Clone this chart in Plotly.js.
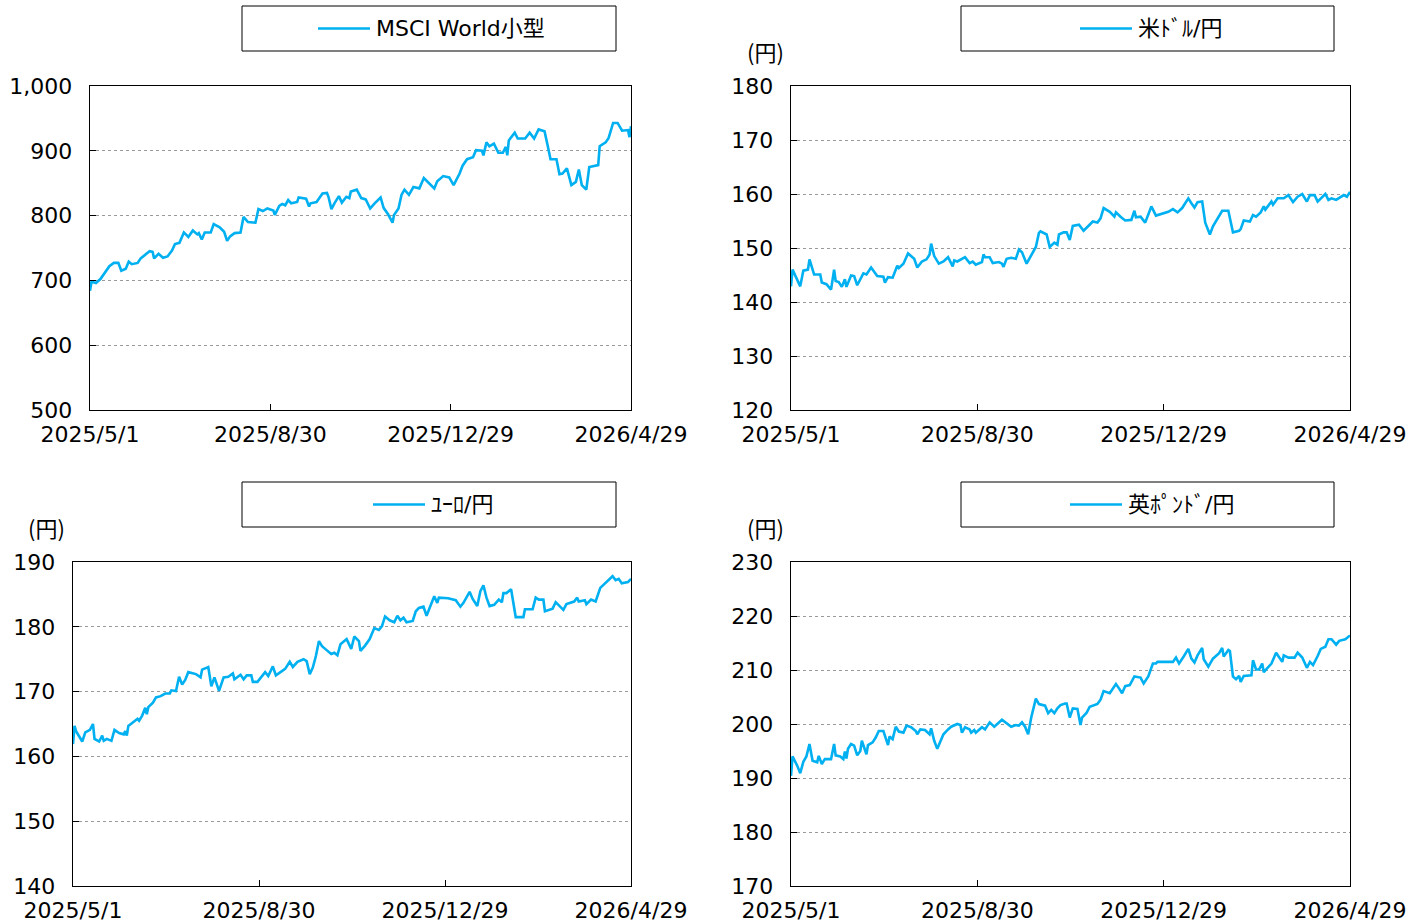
<!DOCTYPE html>
<html>
<head>
<meta charset="utf-8">
<script src="https://cdn.plot.ly/plotly-3.0.1.min.js"></script>
<style>
html,body{margin:0;padding:0;background:#fff;}
#chart{width:1424px;height:924px;}
</style>
</head>
<body>
<div id="chart"></div>
<script>
// ---- data (days since 2025-05-01, values) ----
const startDate = '2025-05-01';
const xTickVals = ['2025-05-01', '2025-08-30', '2025-12-29', '2026-04-29'];
const xTickText = ['2025/5/1', '2025/8/30', '2025/12/29', '2026/4/29'];

const seriesNames = ['MSCI World小型', '米ﾄﾞﾙ/円', 'ﾕｰﾛ/円', '英ﾎﾟﾝﾄﾞ/円'];

const msciDays = [0,1,4,7,13,16,19,21,24,26,28,32,34,37,40,42,43,46,49,52,55,57,60,63,66,69,72,73,75,77,81,83,87,90,92,94,97,101,103,106,111,113,116,119,123,124,127,129,131,133,135,139,140,145,147,148,152,156,159,160,162,164,167,169,172,174,175,179,182,185,188,191,195,197,200,203,204,207,209,211,214,217,221,224,227,231,233,237,241,244,248,250,253,257,259,263,264,266,268,271,274,277,279,280,281,285,287,292,295,298,301,305,307,309,313,315,317,320,323,326,328,330,333,335,341,342,346,348,351,354,357,361,362,363];
const msciVals = [684,698,696,702,722,727,727,715,718,729,725,727,734,739,745,744,734,741,735,737,746,756,758,774,767,777,771,773,763,774,774,787,782,775,761,768,773,774,798,790,789,810,807,811,808,801,815,818,816,824,819,821,828,826,814,819,821,834,835,829,810,819,830,820,829,827,837,840,827,825,811,819,828,812,802,789,801,811,832,840,832,844,842,858,851,842,853,861,859,847,865,877,887,890,901,900,893,913,907,911,897,897,906,893,916,928,919,919,928,919,933,930,909,887,887,864,865,873,847,852,871,847,840,875,878,907,913,920,943,943,931,932,921,938];

const usdDays = [0,1,6,8,11,12,15,19,20,23,26,28,29,31,33,35,36,39,41,43,47,49,52,56,60,61,63,66,69,70,73,76,80,82,85,88,90,91,93,96,99,102,105,106,108,111,113,116,118,120,124,125,126,129,131,135,137,138,140,143,146,148,150,153,156,159,161,162,166,168,171,173,174,177,179,181,183,187,190,193,196,199,201,203,207,210,211,214,217,221,223,224,227,230,232,234,237,241,245,248,251,254,258,260,262,264,267,269,272,274,277,280,284,287,291,292,294,298,300,302,305,307,308,312,313,316,320,323,326,329,332,335,337,340,342,345,347,349,351,354,356,359,361,363];
const usdVals = [142.9,146.0,142.9,145.8,146.0,147.9,145.1,145.1,143.6,143.3,142.3,146.0,143.9,143.7,142.8,144.2,142.8,144.9,144.8,143.1,145.3,145.1,146.4,144.8,144.7,143.6,144.6,144.5,146.7,146.3,147.1,149.0,148.0,146.4,147.5,147.9,148.8,150.8,148.5,147.1,147.5,148.3,146.6,147.7,147.5,148.0,148.3,147.2,147.5,146.9,147.4,148.8,148.3,148.3,147.2,147.4,147.1,146.5,148.0,148.2,148.0,149.7,149.2,147.1,148.6,150.2,152.8,153.1,152.5,150.2,151.0,150.6,152.5,152.9,152.9,151.5,154.1,154.3,153.2,154.1,154.9,154.7,155.5,157.4,156.7,155.8,156.6,155.8,155.1,155.2,156.9,155.7,155.8,154.7,156.1,157.7,156.0,156.3,156.7,157.2,156.6,157.4,159.2,158.3,157.5,158.5,158.6,154.7,152.5,154.0,155.5,156.9,156.9,152.9,153.2,153.5,155.1,154.9,156.1,155.8,156.6,157.7,157.1,158.6,158.0,159.2,159.2,159.8,158.5,159.5,160.0,158.6,159.8,159.8,158.6,159.5,160.0,158.9,159.2,158.9,159.2,159.8,159.5,160.4];

const eurDays = [0,1,2,6,8,11,13,14,17,19,20,22,25,27,30,33,34,35,36,39,42,43,45,47,48,49,52,54,57,60,63,64,67,69,71,73,75,80,83,84,88,90,92,95,98,101,104,105,109,111,113,116,117,120,123,125,127,130,132,136,138,141,143,146,150,152,154,156,158,160,162,165,168,170,172,174,178,181,183,186,187,190,193,196,199,201,203,206,209,211,213,215,217,221,223,225,228,230,232,235,237,238,244,249,252,254,258,260,263,265,267,269,271,274,277,279,280,282,285,288,293,294,299,301,303,306,307,312,314,319,321,326,328,329,333,334,337,340,343,346,351,353,355,357,361,363];
const eurVals = [161.9,164.7,163.9,162.3,163.7,164.1,165.0,162.7,162.3,163.2,162.4,162.7,162.4,164.1,163.6,163.4,163.9,163.2,164.7,165.2,165.8,165.5,166.3,167.5,166.5,167.6,168.3,169.1,169.3,169.7,169.7,170.2,170.1,172.3,171.1,171.8,173.0,172.7,172.2,173.4,173.8,170.8,172.2,170.1,172.2,172.3,172.8,171.9,172.6,171.9,172.5,172.5,171.5,171.5,172.4,173.0,172.4,173.9,172.5,173.2,173.5,174.6,173.8,174.6,175.0,174.7,172.7,173.7,175.5,177.8,177.0,176.4,175.8,176.0,175.6,177.3,178.1,176.6,178.5,177.8,176.3,177.1,178.1,179.8,179.5,180.1,181.6,181.0,180.7,181.7,181.0,181.4,180.7,180.9,182.4,182.9,183.1,181.7,182.9,184.7,183.7,184.5,184.4,184.1,183.1,183.7,185.4,184.3,183.2,185.5,186.4,184.5,183.2,183.4,184.2,183.8,185.2,185.2,185.8,181.5,181.5,182.7,182.7,184.5,184.2,184.2,182.4,182.8,183.8,182.6,183.5,183.9,184.5,183.9,184.1,183.5,184.2,183.9,186.0,186.7,187.8,187.2,187.4,186.7,186.9,187.4];

const gbpDays = [0,1,4,6,8,10,12,14,17,18,20,22,26,28,29,32,34,35,36,37,39,41,43,45,46,49,50,53,55,57,60,63,64,66,68,70,73,75,78,81,82,84,87,90,91,93,95,99,102,104,108,110,111,113,116,117,119,120,124,126,129,132,137,140,143,146,148,150,152,154,156,159,161,165,167,169,171,173,175,178,179,181,183,186,188,189,192,194,196,199,201,203,207,211,213,215,217,220,223,227,229,232,235,237,238,248,250,252,255,258,260,262,264,267,268,271,274,278,280,281,284,285,287,289,291,292,294,299,300,302,304,306,307,310,312,315,319,320,323,327,329,332,335,337,339,342,344,347,349,351,354,356,360,363];
const gbpVals = [190.4,194.0,192.3,190.9,193.0,194.0,196.3,193.2,192.9,194.1,192.6,193.5,193.5,196.3,194.2,194.0,193.5,194.9,193.6,195.4,196.3,196.0,194.2,195.0,196.9,194.4,196.1,196.6,197.5,198.7,198.7,196.1,197.7,197.2,199.5,198.6,198.4,199.7,199.4,198.7,198.1,199.0,198.9,198.1,199.2,196.9,195.4,198.1,199.0,199.5,200.0,199.8,198.4,199.4,199.0,198.4,198.9,198.4,199.4,199.0,200.3,199.5,200.8,200.2,199.5,199.8,199.7,200.3,199.5,198.1,201.2,204.7,203.7,203.4,202.0,202.6,202.0,202.9,203.5,203.8,203.8,201.2,202.9,202.8,199.8,201.2,202.1,203.2,203.4,203.7,204.5,206.1,205.7,207.4,206.6,205.7,207.0,207.2,208.8,208.6,207.5,208.8,211.2,211.2,211.5,211.5,212.3,211.2,212.5,213.9,212.1,211.4,212.7,214.1,212.0,210.6,212.1,213.1,214.1,212.5,213.7,213.5,208.8,208.3,208.9,207.8,208.9,209.0,211.8,210.1,210.1,211.2,209.6,210.6,211.2,213.2,211.5,212.7,212.3,212.3,213.2,212.3,210.4,211.5,210.9,212.6,213.9,214.3,215.7,215.7,214.7,215.4,215.7,216.4];

const yRanges = [[500, 1000], [120, 180], [140, 190], [170, 230]];
const yDticks = [100, 10, 10, 10];

// ---- helpers ----
function toDate(d) {
  const t = new Date(Date.parse(startDate + 'T00:00:00Z') + d * 86400000);
  return t.toISOString().slice(0, 10);
}

const W = 1424, H = 924;
const lineColor = '#00b0f0';
const FONT = '"DejaVu Sans", "Noto Sans CJK JP", sans-serif';
const CJK = '"Noto Sans CJK JP", sans-serif';

// panel boxes in pixels: [left, right, top, bottom]
const panels = [
  [90, 631, 86, 410],
  [791, 1350, 86, 410],
  [73, 631, 562, 886],
  [791, 1350, 562, 886]
];
// legend boxes: [left,right,top,bottom, lineStart, lineEnd]
const legBoxes = [
  [242, 616, 6, 51, 318, 370],
  [961, 1334, 6, 51, 1080, 1132],
  [242, 616, 482, 527, 373, 425],
  [961, 1334, 482, 527, 1070, 1122]
];
const unitPos = [null, [765, 51], [47, 527], [765, 527]];

const allDays = [msciDays, usdDays, eurDays, gbpDays];
const allVals = [msciVals, usdVals, eurVals, gbpVals];

const traces = [];
const layout = {
  width: W, height: H,
  margin: {l: 0, r: 0, t: 0, b: 0},
  paper_bgcolor: '#fff', plot_bgcolor: '#fff',
  showlegend: false,
  font: {family: FONT, size: 22, color: '#000'},
  shapes: [], annotations: []
};

const px = x => x / W;
const py = y => 1 - y / H;

for (let i = 0; i < 4; i++) {
  const n = i === 0 ? '' : String(i + 1);
  const [l, r, t, b] = panels[i];
  traces.push({
    type: 'scatter', mode: 'lines',
    x: allDays[i].map(toDate), y: allVals[i],
    name: seriesNames[i],
    xaxis: 'x' + n, yaxis: 'y' + n,
    line: {color: lineColor, width: 2.6},
    hoverinfo: 'skip'
  });
  const ticks = [];
  for (let v = yRanges[i][0]; v <= yRanges[i][1]; v += yDticks[i]) ticks.push(v);
  layout['xaxis' + n] = {
    type: 'date',
    domain: [px(l), px(r)],
    anchor: 'y' + n,
    range: ['2025-05-01', '2026-04-29'],
    tickmode: 'array', tickvals: xTickVals, ticktext: xTickText,
    ticks: 'inside', ticklen: 6, tickwidth: 1, tickcolor: '#000',
    showgrid: false, zeroline: false,
    showline: true, mirror: true, linecolor: '#000', linewidth: 1.4,
    tickfont: {family: FONT, size: 22, color: '#000'},
    ticklabelstandoff: 4,
    fixedrange: true
  };
  layout['yaxis' + n] = {
    domain: [py(b), py(t)],
    anchor: 'x' + n,
    range: yRanges[i],
    tickmode: 'array', tickvals: ticks,
    ticktext: ticks.map(v => v.toLocaleString('en-US')),
    ticks: 'inside', ticklen: 6, tickwidth: 1, tickcolor: '#000',
    showgrid: true, gridcolor: '#9a9a9a', gridwidth: 1, griddash: 'dot',
    zeroline: false,
    showline: true, mirror: true, linecolor: '#000', linewidth: 1.4,
    tickfont: {family: FONT, size: 22, color: '#000'},
    ticklabelstandoff: 12,
    fixedrange: true
  };

  // legend box
  const [bl, br, bt, bb, ls, le] = legBoxes[i];
  layout.shapes.push({
    type: 'rect', xref: 'paper', yref: 'paper',
    x0: px(bl), x1: px(br), y0: py(bb), y1: py(bt),
    line: {color: '#000', width: 1}, fillcolor: 'rgba(0,0,0,0)'
  });
  const cy = (bt + bb) / 2;
  layout.shapes.push({
    type: 'line', xref: 'paper', yref: 'paper',
    x0: px(ls), x1: px(le), y0: py(cy), y1: py(cy),
    line: {color: lineColor, width: 2.6}
  });
  layout.annotations.push({
    xref: 'paper', yref: 'paper', x: px(le + 4), y: py(cy),
    xanchor: 'left', yanchor: 'middle', showarrow: false,
    text: seriesNames[i], font: {family: FONT, size: 22, color: '#000'}
  });
  if (unitPos[i]) {
    layout.annotations.push({
      xref: 'paper', yref: 'paper', x: px(unitPos[i][0]), y: py(unitPos[i][1]),
      xanchor: 'center', yanchor: 'middle', showarrow: false,
      text: '(円)', font: {family: CJK, size: 22, color: '#000'}
    });
  }
}

Plotly.newPlot('chart', traces, layout, {staticPlot: true, displayModeBar: false});
</script>
</body>
</html>
